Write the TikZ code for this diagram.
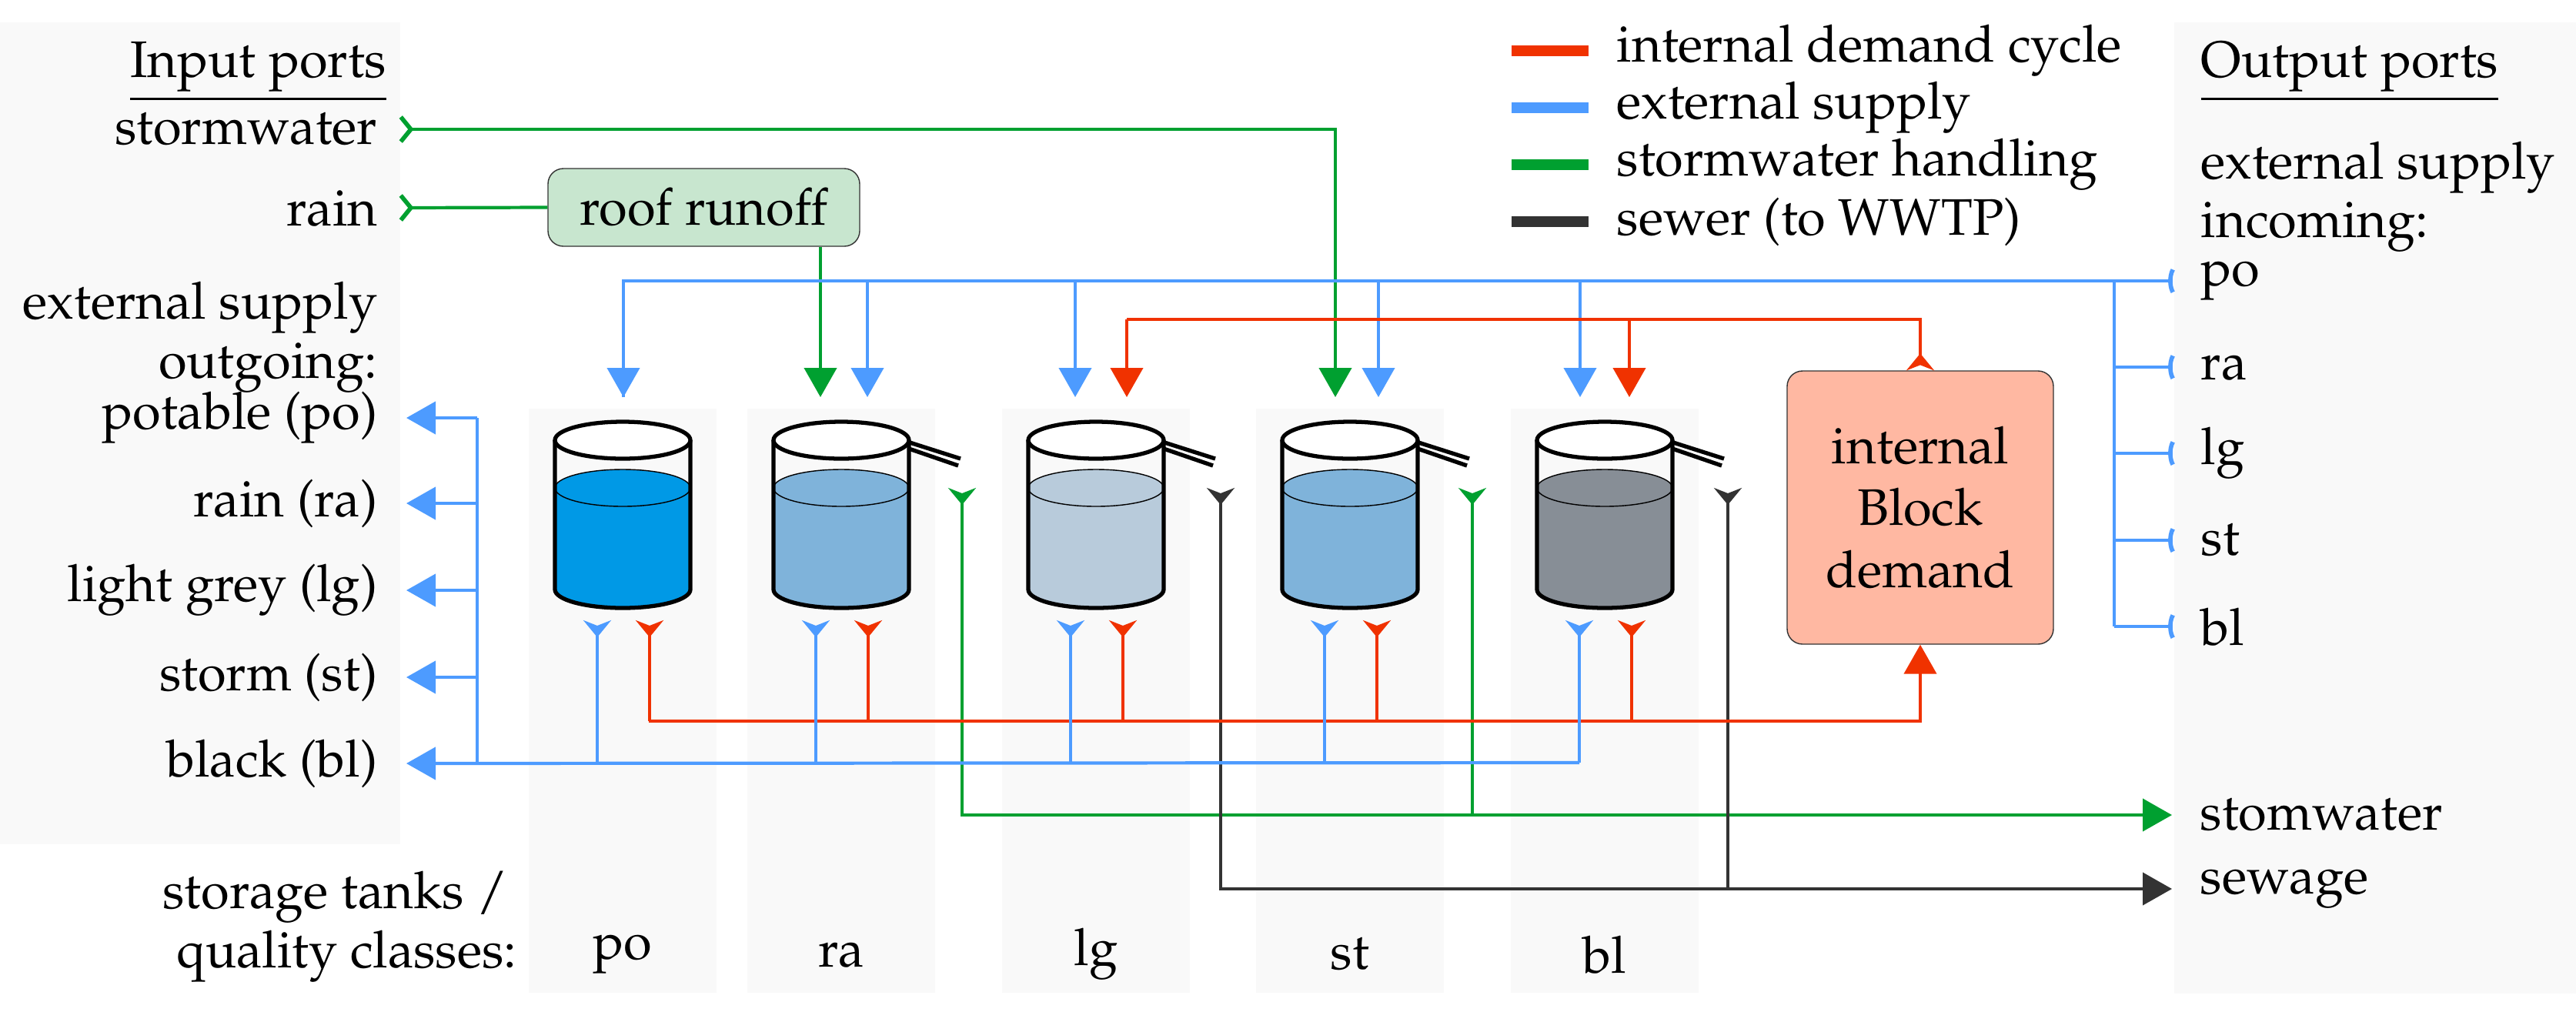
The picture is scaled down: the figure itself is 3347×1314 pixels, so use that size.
\documentclass[tikz,border=0pt]{standalone}
\usepackage[T1]{fontenc}
\usepackage{mathpazo}
\usepackage{tikz}
\usetikzlibrary{arrows.meta, positioning, calc}

\definecolor{cred}{RGB}{240,50,0}
\definecolor{cblue}{RGB}{77,155,255}
\definecolor{cgreen}{RGB}{0,160,48}
\definecolor{cdark}{RGB}{51,51,51}
\definecolor{panel}{RGB}{249,249,249}
\definecolor{tankpo}{RGB}{0,153,230}
\definecolor{tankra}{RGB}{127,179,218}
\definecolor{tanklg}{RGB}{184,203,219}
\definecolor{tankbl}{RGB}{135,142,150}
\definecolor{roofgreen}{RGB}{200,230,207}
\definecolor{demandred}{RGB}{255,184,162}

\tikzset{
  lbl/.style={inner sep=0pt, font=\fontsize{19}{23}\selectfont},
  flow/.style={line width=1.2pt},
  tip/.style={-{Triangle[length=3.8mm,width=4.2mm]}},
  inport/.style={{Straight Barb[reversed,length=1.3mm,width=3.2mm,line width=1.6pt]}-},
  inporttip/.style={{Straight Barb[reversed,length=1.3mm,width=3.2mm,line width=1.6pt]}-{Triangle[length=3.8mm,width=4.2mm]}},
  outport/.style={-{Arc Barb[reversed,arc=100,length=1.2mm,width=4.4mm,line width=1.6pt]}},
  tankport/.style={{Stealth[reversed,length=2.2mm,width=3.6mm,inset=0.7mm]}-},
  tankporttip/.style={{Stealth[reversed,length=2.2mm,width=3.6mm,inset=0.7mm]}-{Triangle[length=3.8mm,width=4.2mm]}},
  tankline/.style={line width=1.5pt},
  legbar/.style={line width=4.2pt}
}

\begin{document}
\begin{tikzpicture}[x=0.1mm, y=-0.1mm]
  \useasboundingbox (0,0) rectangle (3347,1314);

  % panels
  \fill[panel] (0,29) rectangle (520,1097);
  \fill[panel] (2825,29) rectangle (3347,1291);
  \foreach \cx in {809,1093,1424,1754,2085}
    \fill[panel] (\cx-122,531) rectangle (\cx+122,1290);

  % input ports
  \node[lbl, anchor=base east] (inhead) at (503,100) {\underline{Input ports}};
  \node[lbl, anchor=east] (stormin) at (491,168) {stormwater};
  \node[lbl, anchor=east] (rainin) at (491,270) {rain};
  \coordinate (pstorm) at (518,168);
  \coordinate (prain) at (518,270);
  \node[lbl, anchor=base east, align=right] (extout) at (491,414) {external supply};
  \node[lbl, anchor=base east] (outgo) at (491,491) {outgoing:};
  \foreach \n/\y/\t in {po/543/potable (po), ra/654/rain (ra), lg/767/light grey (lg), st/880/storm (st), bl/992/black (bl)} {
    \node[lbl, anchor=east] (out\n) at (491,\y) {\t};
    \coordinate (aout\n) at (528,\y);
  }

  % output ports
  \node[lbl, anchor=base west] (outhead) at (2859,100) {\underline{Output ports}};
  \node[lbl, anchor=base west] (extin) at (2859,232) {external supply};
  \node[lbl, anchor=base west] (incom) at (2859,308) {incoming:};
  \foreach \n/\y in {po/365, ra/477, lg/589, st/702, bl/814} {
    \node[lbl, anchor=west] (in\n) at (2859,\y) {\n};
    \coordinate (pin\n) at (2825,\y);
  }
  \node[lbl, anchor=west] (stomout) at (2858,1059) {stomwater};
  \node[lbl, anchor=west] (sewout) at (2858,1155) {sewage};

  % legend
  \foreach \c/\y/\t in {cred/66/internal demand cycle, cblue/140/external supply, cgreen/214/stormwater handling, cdark/288/sewer (to WWTP)} {
    \draw[legbar, \c] (1964,\y) -- (2064,\y);
    \node[lbl, anchor=west] at (2100,\y) {\t};
  }

  % boxes
  \node[draw=cdark, fill=roofgreen, rounded corners=2mm, minimum width=40.5mm, minimum height=10.1mm, lbl] (roof) at (914.5,269.5) {roof runoff};
  \node[draw=cdark, fill=demandred, rounded corners=2mm, minimum width=34.6mm, minimum height=35.5mm, lbl, align=center] (demand) at (2495,659.5) {internal\\Block\\demand};

  % tanks
  \foreach \n/\cx/\col in {po/809/tankpo, ra/1093/tankra, lg/1424/tanklg, st/1754/tankra, bl/2085/tankbl} {
    \begin{scope}[shift={(\cx,0)}]
      \fill[\col] (-88,634) -- (-88,766) arc[start angle=180, end angle=0, x radius=88, y radius=24] -- (88,634) -- cycle;
      \draw[thin, fill=\col] (0,634) ellipse[x radius=88, y radius=24];
      \draw[tankline] (-88,572) -- (-88,766) arc[start angle=180, end angle=0, x radius=88, y radius=24] -- (88,572);
      \draw[tankline, fill=white] (0,572) ellipse[x radius=88, y radius=24];
      \ifnum\cx>900
        \draw[tankline] (86,574) -- (155,596);
        \draw[tankline] (88,583) -- (152,605);
      \fi
      \node[lbl] (q\n) at (0,1240) {\n};
    \end{scope}
    \coordinate (tin\n) at (\cx,516);
  }
  \node[lbl, anchor=base east, align=right] (qhead) at (661,1180) {storage tanks /};
  \node[lbl, anchor=base east] (qhead2) at (672,1257) {quality classes:};

  % stormwater handling
  \draw[flow, cgreen, inporttip] (pstorm) -- (1735,168) -- (1735,516);
  \draw[flow, cgreen, inport] (prain) -- (roof.west);
  \draw[flow, cgreen, tip] (roof.south -| 1066,0) -- (1066,516);
  \draw[flow, cgreen, tankporttip] (1250,634) -- (1250,1059) -- (2822,1059);
  \draw[flow, cgreen, tankport] (1913,634) -- (1913,1059);

  % sewer
  \draw[flow, cdark, tankporttip] (1586,634) -- (1586,1155) -- (2822,1155);
  \draw[flow, cdark, tankport] (2245,634) -- (2245,1155);

  % external supply in
  \draw[flow, cblue, outport] (810,516) -- (810,365) -- (pinpo);
  \foreach \x in {810,1127,1397,1791,2053}
    \draw[flow, cblue, tip] (\x,365) -- (\x,516);
  \draw[flow, cblue] (2747,365) -- (2747,814);
  \foreach \n in {ra,lg,st,bl}
    \draw[flow, cblue, outport] (2747,0 |- pin\n) -- (pin\n);

  % internal demand
  \draw[flow, cred, {Stealth[reversed,length=2.2mm,width=3.6mm,inset=0.7mm]}-] (demand.north) -- (2495,415) -- (1464,415);
  \foreach \x in {1464,2117}
    \draw[flow, cred, tip] (\x,415) -- (\x,516);
  \draw[flow, cred, tip] (843,937) -- (2495,937) -- (demand.south);

  % tank outlets
  \foreach \cx in {809,1093,1424,1754,2085} {
    \draw[flow, cblue, tankport] (\cx-33,806) -- (\cx-33,991);
    \draw[flow, cred, tankport] (\cx+35,806) -- (\cx+35,937);
  }

  % external supply out
  \draw[flow, cblue, tip] (2052,991) -- (aoutbl);
  \draw[flow, cblue] (620,543) -- (620,991);
  \foreach \n in {po,ra,lg,st}
    \draw[flow, cblue, tip] (620,0 |- aout\n) -- (aout\n);
\end{tikzpicture}
\end{document}
